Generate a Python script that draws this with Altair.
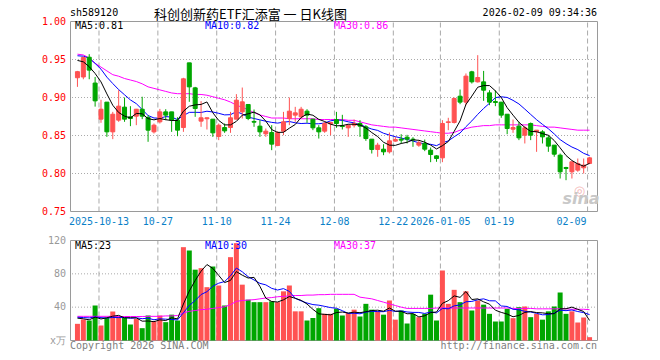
import altair as alt
import pandas as pd

# ---------------- data ----------------
opens = [0.926, 0.927, 0.953, 0.919, 0.8715, 0.8939, 0.8548, 0.8702, 0.8873, 0.8746,
         0.8754, 0.8846, 0.8737, 0.8548, 0.868, 0.8811, 0.8811, 0.8702, 0.8605, 0.9456,
         0.9127, 0.8689, 0.872, 0.8715, 0.8487, 0.8605, 0.8605, 0.8715, 0.8811, 0.8908,
         0.8685, 0.8623, 0.8522, 0.8539, 0.8368, 0.8557, 0.8724, 0.8768, 0.8746, 0.882,
         0.8715, 0.8601, 0.8557, 0.8654, 0.871, 0.8627, 0.8601, 0.8636, 0.8658, 0.8614,
         0.8452, 0.8316, 0.832, 0.8285, 0.8426, 0.8452, 0.8478, 0.8452, 0.8373, 0.8395,
         0.8307, 0.8232, 0.8206, 0.8671, 0.8671, 0.9017, 0.8939, 0.9338, 0.9206, 0.9206,
         0.9061, 0.8947, 0.8939, 0.878, 0.8583, 0.8623, 0.8504, 0.8658, 0.8548, 0.8548,
         0.8469, 0.8373, 0.8241, 0.8079, 0.8022, 0.8044, 0.8075, 0.8132]
highs = [0.935, 0.954, 0.957, 0.927, 0.897, 0.894, 0.8811, 0.9096, 0.90, 0.8886,
         0.885, 0.901, 0.8768, 0.8658, 0.885, 0.8846, 0.8811, 0.874, 0.9259, 0.9456,
         0.914, 0.8952, 0.8737, 0.8715, 0.8658, 0.8658, 0.8811, 0.9044, 0.9131, 0.8908,
         0.8842, 0.8702, 0.8592, 0.8636, 0.8557, 0.8811, 0.90, 0.8877, 0.8877, 0.8846,
         0.8715, 0.8636, 0.868, 0.868, 0.8811, 0.8772, 0.8645, 0.871, 0.8702, 0.8636,
         0.8452, 0.8404, 0.8386, 0.8539, 0.8482, 0.8517, 0.8509, 0.8478, 0.8439, 0.8447,
         0.8342, 0.8241, 0.8702, 0.8733, 0.90, 0.9105, 0.9316, 0.9351, 0.9557, 0.935,
         0.9096, 0.9096, 0.8939, 0.878, 0.871, 0.868, 0.8623, 0.8671, 0.857, 0.857,
         0.8504, 0.8373, 0.8263, 0.8088, 0.8154, 0.8197, 0.8197, 0.8219]
lows = [0.914, 0.924, 0.924, 0.888, 0.8667, 0.8482, 0.8452, 0.868, 0.868, 0.8623,
        0.8636, 0.8715, 0.8417, 0.8526, 0.8658, 0.8702, 0.8548, 0.8491, 0.8548, 0.8943,
        0.8746, 0.8614, 0.8579, 0.8482, 0.8439, 0.8535, 0.8535, 0.8715, 0.8724, 0.8702,
        0.8614, 0.8482, 0.8482, 0.8307, 0.836, 0.8504, 0.8636, 0.868, 0.8724, 0.8667,
        0.857, 0.846, 0.8535, 0.8504, 0.8601, 0.8579, 0.8482, 0.8605, 0.8482, 0.843,
        0.8263, 0.822, 0.8241, 0.8263, 0.8417, 0.8395, 0.8395, 0.8351, 0.8351, 0.8294,
        0.8149, 0.8154, 0.8149, 0.857, 0.8658, 0.8912, 0.8899, 0.9184, 0.9197, 0.8956,
        0.8899, 0.8886, 0.8733, 0.8517, 0.8535, 0.8439, 0.8395, 0.8439, 0.8285, 0.8395,
        0.8285, 0.822, 0.7934, 0.7912, 0.7934, 0.8022, 0.80, 0.8123]
closes = [0.934, 0.9526, 0.936, 0.8956, 0.8846, 0.8548, 0.878, 0.8886, 0.8715, 0.8724,
          0.8846, 0.8754, 0.857, 0.8636, 0.8811, 0.8768, 0.8702, 0.857, 0.9246, 0.914,
          0.8855, 0.8733, 0.8733, 0.8535, 0.8636, 0.8561, 0.8733, 0.8965, 0.8943, 0.8724,
          0.8675, 0.8548, 0.8557, 0.8386, 0.8539, 0.868, 0.882, 0.8798, 0.8846, 0.8768,
          0.8601, 0.8548, 0.8658, 0.8671, 0.8658, 0.8618, 0.8636, 0.8658, 0.8623, 0.846,
          0.8316, 0.8373, 0.8285, 0.843, 0.8447, 0.8439, 0.8452, 0.8443, 0.8404, 0.832,
          0.825, 0.8197, 0.8658, 0.868, 0.8987, 0.8939, 0.9281, 0.9206, 0.9263, 0.9096,
          0.8939, 0.8934, 0.8768, 0.8592, 0.8605, 0.8469, 0.8601, 0.8504, 0.857, 0.8482,
          0.836, 0.8254, 0.8022, 0.8066, 0.8154, 0.8132, 0.811, 0.8206]
volumes = [20, 25.2, 24, 42, 18, 27, 34.8, 29, 27, 19.2,
           26, 14.8, 30, 23, 30, 22, 31, 24, 112, 108,
           85, 86.8, 64, 88.8, 66, 42, 100, 116.8, 67, 49,
           46, 46, 46, 47, 46, 59, 66, 35, 35, 24,
           27, 38.8, 32, 32, 38, 30, 33, 37, 28.8, 44,
           37, 35, 31, 48, 25, 36, 20.4, 32, 28, 32,
           55, 24, 84, 44, 60.8, 46, 59, 36, 48, 43,
           32, 22.8, 22.8, 38, 26.8, 40, 40.8, 28, 32, 25,
           35, 40.8, 57.6, 32, 35, 21.6, 27.6, 4]
ma30_price = [0.957, 0.956, 0.952, 0.945, 0.940, 0.935, 0.930, 0.928, 0.925, 0.923,
              0.921, 0.918, 0.914, 0.912, 0.910, 0.908, 0.906, 0.905, 0.905, 0.905,
              0.904, 0.904, 0.903, 0.901, 0.899, 0.897, 0.894, 0.890, 0.887, 0.884,
              0.880, 0.877, 0.875, 0.873, 0.873, 0.873, 0.872, 0.872, 0.872, 0.872,
              0.872, 0.871, 0.871, 0.871, 0.871, 0.871, 0.870, 0.870, 0.868, 0.866,
              0.864, 0.863, 0.862, 0.861, 0.861, 0.860, 0.859, 0.858, 0.857, 0.856,
              0.855, 0.854, 0.853, 0.853, 0.854, 0.857, 0.859, 0.861, 0.862, 0.863,
              0.863, 0.864, 0.864, 0.864, 0.864, 0.864, 0.864, 0.864, 0.863, 0.862,
              0.861, 0.861, 0.860, 0.859, 0.858, 0.857, 0.857, 0.857]
ma30_vol = [29, 29, 29, 29, 29, 29, 29, 28.8, 28.8, 28.8,
            28.8, 28.8, 29, 29, 29, 29.5, 29.5, 30, 33, 35,
            36, 37, 37.5, 38.5, 39.5, 40.5, 43, 47, 48, 48.5,
            49, 50, 51, 51.5, 52.5, 53, 53.5, 54, 54, 54.5,
            54.5, 55, 55, 55.4, 55.4, 55.4, 55.4, 55.4, 52, 51,
            50, 48, 46, 44, 42, 40, 38.5, 38.5, 38.5, 38.5,
            38.5, 39, 39, 39, 39, 39, 39, 39, 39, 39,
            39, 39, 39, 39, 38.5, 38.5, 38.5, 38.5, 38, 38,
            38, 38, 38, 38, 37.5, 37.5, 37.5, 37]
prior_closes = [0.958, 0.962, 0.965, 0.960, 0.960, 0.962, 0.968, 0.940, 0.940]
prior_vols = [29, 28, 30, 27, 31, 29, 30, 26, 29]

tick_idx = [4, 14, 24, 34, 44, 54, 62, 72]
tick_labels = ["2025-10-13", "10-27", "11-10", "11-24", "12-08", "12-22", "2026-01-05", "01-19"]
last_tick_idx = [87]
last_tick_label = ["02-09"]
price_ticks = [0.75, 0.80, 0.85, 0.90, 0.95, 1.00]
price_grid = [0.80, 0.85, 0.90, 0.95]
vol_ticks = [0, 40, 80, 120]
vol_tick_labels = ["x万", "40", "80", "120"]
vol_grid = [40, 80]

# ---------------- table ----------------
n = len(closes)
df = pd.DataFrame({"i": list(range(n)), "open": opens, "high": highs, "low": lows,
                   "close": closes, "vol": volumes, "ma30": ma30_price, "vma30": ma30_vol})
df["dir"] = ["up" if c >= o else "down" for o, c in zip(opens, closes)]
cs = pd.Series(prior_closes + closes)
df["ma5"] = cs.rolling(5).mean().iloc[len(prior_closes):].values
df["ma10"] = cs.rolling(10).mean().iloc[len(prior_closes):].values
vs = pd.Series(prior_vols + volumes)
df["vma5"] = vs.rolling(5).mean().iloc[len(prior_vols):].values
df["vma10"] = vs.rolling(10).mean().iloc[len(prior_vols):].values

ticks_df = pd.DataFrame({"idx": tick_idx, "label": tick_labels})
last_df = pd.DataFrame({"idx": last_tick_idx, "label": last_tick_label})
all_ticks_df = pd.DataFrame({"idx": tick_idx + last_tick_idx})
pt_df = pd.DataFrame({"v": price_ticks})
pg_df = pd.DataFrame({"v": price_grid})
vt_df = pd.DataFrame({"v": vol_ticks, "label": vol_tick_labels})
vg_df = pd.DataFrame({"v": vol_grid})

W, H = 528, 322
RED, GREEN = "#ff5252", "#00a600"
MONO = "DejaVu Sans Mono"
GRID = "#aaaaaa"
FRAME = "#9a9a9a"

xs = alt.X("i:Q", scale=alt.Scale(domain=[-5 / 12, n - 5 / 12], nice=False, zero=False), axis=None)
xt = alt.X("idx:Q", scale=alt.Scale(domain=[-5 / 12, n - 5 / 12], nice=False, zero=False), axis=None)
pscale = alt.Scale(domain=[0.75, 1.0], range=[191.5, 1.5], nice=False, zero=False)
vscale = alt.Scale(domain=[0, 120], range=[320.5, 220.5], nice=False, zero=False)
color = alt.Color("dir:N", scale=alt.Scale(domain=["up", "down"], range=[RED, GREEN]), legend=None)


def label(text, x, y, col, align="left", size=10, font=MONO, baseline="middle", **kw):
    return alt.Chart(pd.DataFrame({"t": [text]})).mark_text(
        align=align, baseline=baseline, fontSize=size, font=font, color=col, **kw
    ).encode(x=alt.value(x), y=alt.value(y), text="t:N")


# ---------------- price panel ----------------
base = alt.Chart(df)
p_frame = alt.Chart(pd.DataFrame({"a": [0]})).mark_rect(
    fillOpacity=0, stroke=FRAME, strokeWidth=1
).encode(x=alt.value(0.5), x2=alt.value(W - 0.5),
         y=alt.YDatum(1.0, scale=pscale, axis=None), y2=alt.Y2Datum(0.75))
p_hgrid = alt.Chart(pg_df).mark_rule(color=GRID, strokeDash=[1, 2], strokeWidth=1).encode(
    y=alt.Y("v:Q", scale=pscale, axis=None))
p_vgrid = alt.Chart(all_ticks_df).mark_rule(color=GRID, strokeDash=[5, 3], strokeWidth=1, xOffset=-2).encode(
    x=xt, y=alt.YDatum(0.75, scale=pscale, axis=None), y2=alt.Y2Datum(1.0))
wicks = base.mark_rule(strokeWidth=1).encode(
    x=xs, y=alt.Y("low:Q", scale=pscale, axis=None), y2="high:Q", color=color)
bodies = base.mark_bar(size=4, strokeWidth=1).encode(
    x=xs, y=alt.Y("open:Q", scale=pscale, axis=None), y2="close:Q", color=color, stroke=color)
ma5 = base.mark_line(color="black", strokeWidth=1).encode(x=xs, y=alt.Y("ma5:Q", scale=pscale, axis=None))
ma10 = base.mark_line(color="#0000ff", strokeWidth=1).encode(x=xs, y=alt.Y("ma10:Q", scale=pscale, axis=None))
ma30 = base.mark_line(color="#ff00ff", strokeWidth=1).encode(x=xs, y=alt.Y("ma30:Q", scale=pscale, axis=None))
p_labels = alt.Chart(pt_df).mark_text(align="right", baseline="middle", fontSize=10, font=MONO,
                                      color="#ff0000").encode(
    x=alt.value(-4), y=alt.Y("v:Q", scale=pscale, axis=None), text=alt.Text("v:Q", format=".2f"))
d_labels = alt.Chart(ticks_df).mark_text(align="center", baseline="middle", fontSize=10, font=MONO,
                                         color="#0a7fc8", dx=-2).encode(
    x=xt, y=alt.value(201.5), text="label:N")
d_last = alt.Chart(last_df).mark_text(align="right", baseline="middle", fontSize=10, font=MONO,
                                      color="#0a7fc8", dx=-3).encode(
    x=xt, y=alt.value(201.5), text="label:N")

price = alt.layer(
    p_hgrid, p_vgrid, p_frame,
    label("◎", 509.5, 171, "#f4b8b8", align="center", size=13, font="DejaVu Sans"),
    label("sina", 511, 179, "#c8c8c8", align="center", size=16, fontStyle="italic", fontWeight="bold",
          font="DejaVu Sans"),
    ma30, ma10, wicks, bodies, ma5, p_labels, d_labels, d_last,
    label("sh589120", 0, -7, "black"),
    label("科创创新药ETF汇添富 一 日K线图", 180.5, -1.5, "black", align="center", size=13,
          font="Noto Sans CJK SC", baseline="alphabetic"),
    label("2026-02-09 09:34:36", W - 1, -7, "black", align="right"),
    label("MA5:0.81", 5, 6, "black"),
    label("MA10:0.82", 135, 6, "#0000ff"),
    label("MA30:0.86", 264, 6, "#ff00ff"),
)

# ---------------- volume panel ----------------
v_frame = alt.Chart(pd.DataFrame({"a": [0]})).mark_rect(
    fillOpacity=0, stroke=FRAME, strokeWidth=1
).encode(x=alt.value(0.5), x2=alt.value(W - 0.5),
         y=alt.YDatum(120, scale=vscale, axis=None), y2=alt.Y2Datum(0))
v_hgrid = alt.Chart(vg_df).mark_rule(color=GRID, strokeDash=[1, 2], strokeWidth=1).encode(
    y=alt.Y("v:Q", scale=vscale, axis=None))
v_vgrid = alt.Chart(all_ticks_df).mark_rule(color=GRID, strokeDash=[5, 3], strokeWidth=1, xOffset=-2).encode(
    x=xt, y=alt.YDatum(0, scale=vscale, axis=None), y2=alt.Y2Datum(120))
vbars = base.mark_bar(size=5).encode(x=xs, y=alt.Y("vol:Q", scale=vscale, axis=None), color=color)
vma5 = base.mark_line(color="black", strokeWidth=1).encode(x=xs, y=alt.Y("vma5:Q", scale=vscale, axis=None))
vma10 = base.mark_line(color="#0000ff", strokeWidth=1).encode(x=xs, y=alt.Y("vma10:Q", scale=vscale, axis=None))
vma30 = base.mark_line(color="#ff00ff", strokeWidth=1).encode(x=xs, y=alt.Y("vma30:Q", scale=vscale, axis=None))
v_labels = alt.Chart(vt_df).mark_text(align="right", baseline="middle", fontSize=10, font=MONO,
                                      color="#999999").encode(
    x=alt.value(-4), y=alt.Y("v:Q", scale=vscale, axis=None), text="label:N")

vol = alt.layer(
    v_hgrid, v_vgrid, v_frame, vbars, vma30, vma10, vma5, v_labels,
    label("MA5:23", 5, 226, "black"),
    label("MA10:30", 135, 226, "#0000ff"),
    label("MA30:37", 264, 226, "#ff00ff"),
    label("Copyright 2026 SINA.COM", 0, 325.5, "#808080"),
    label("http://finance.sina.com.cn", W - 1, 325.5, "#808080", align="right"),
)

chart = alt.layer(price, vol).resolve_scale(y="independent").properties(
    width=W, height=H,
    padding={"left": 62, "top": 12, "right": 54, "bottom": 10},
    autosize=alt.AutoSizeParams(type="none"),
    background="white",
).configure_view(stroke=None)

chart.save("out.html", embed_options={"renderer": "svg", "actions": False})
